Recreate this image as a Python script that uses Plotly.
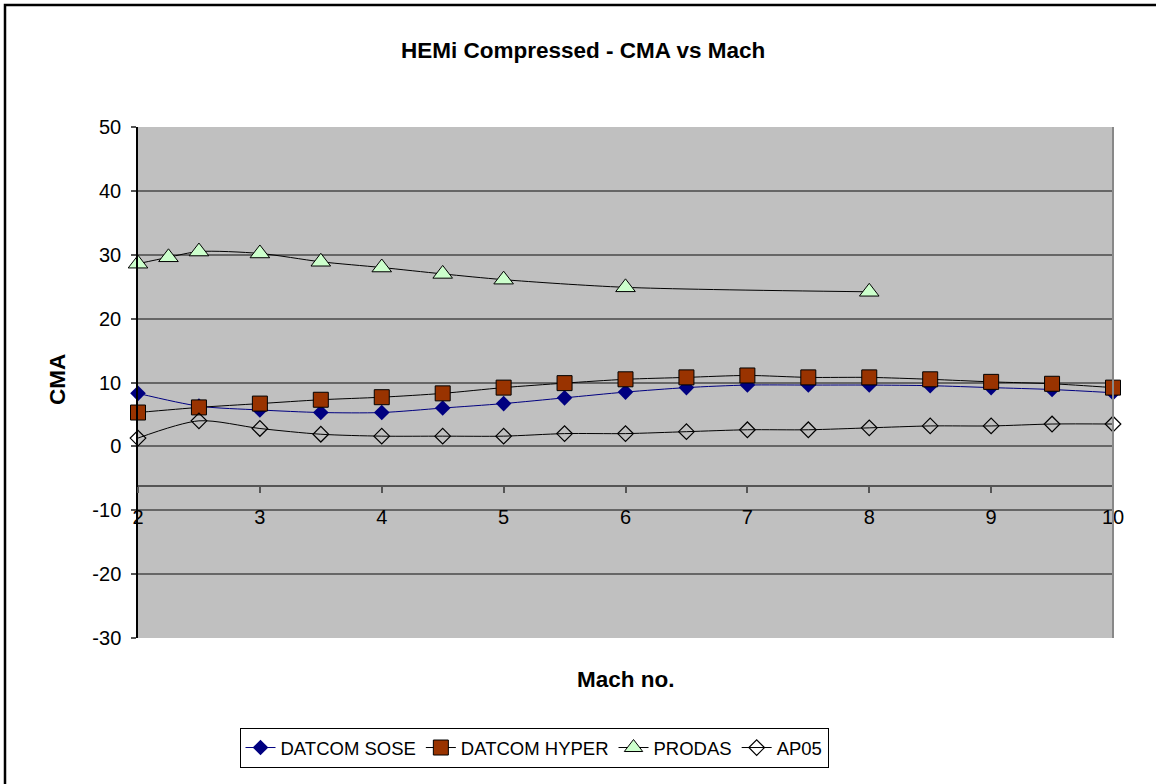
import plotly.graph_objects as go

# ---- data ----
mach = [2, 2.5, 3, 3.5, 4, 4.5, 5, 5.5, 6, 6.5, 7, 7.5, 8, 8.5, 9, 9.5, 10]
datcom_sose = [8.3, 6.3, 5.7, 5.3, 5.3, 6.0, 6.7, 7.6, 8.5, 9.2, 9.6, 9.6, 9.6, 9.5, 9.2, 8.9, 8.4]
datcom_hyper = [5.3, 6.1, 6.7, 7.3, 7.7, 8.3, 9.2, 9.9, 10.5, 10.8, 11.1, 10.8, 10.8, 10.5, 10.1, 9.8, 9.2]
mach_prodas = [2, 2.25, 2.5, 3, 3.5, 4, 4.5, 5, 6, 8]
prodas = [28.6, 29.6, 30.5, 30.2, 28.9, 28.0, 27.0, 26.1, 24.9, 24.2]
ap05 = [1.3, 4.0, 2.8, 1.9, 1.6, 1.6, 1.6, 2.0, 2.0, 2.3, 2.6, 2.6, 2.9, 3.2, 3.2, 3.5, 3.5]

x_ticks = [2, 3, 4, 5, 6, 7, 8, 9, 10]
y_ticks = [-30, -20, -10, 0, 10, 20, 30, 40, 50]
y_tick_labels = ["-30", "-20", "-10", "0", "10", "20", "30", "40", "50"]
x_axis_cross = -6.2

# ---- layout geometry (pixels) ----
W, H = 1156, 784
L, R, T, B = 138, 1156 - 1113, 127, 784 - 638
PW, PH = W - L - R, H - T - B


def px_x(p):
    return (p - L) / PW


def px_y(p):
    return (H - B - p) / PH


FONT = "Liberation Sans, Arial, sans-serif"
line_kw = dict(shape="spline", smoothing=0.8, width=1)

fig = go.Figure()
fig.add_trace(go.Scatter(
    x=mach, y=datcom_sose, name="DATCOM SOSE", mode="lines+markers",
    line=dict(color="#000080", **line_kw),
    marker=dict(symbol="diamond", size=12, color="#000080", line=dict(width=0)),
    cliponaxis=False))
fig.add_trace(go.Scatter(
    x=mach, y=datcom_hyper, name="DATCOM HYPER", mode="lines+markers",
    line=dict(color="#000000", **line_kw),
    marker=dict(symbol="square", size=15, color="#993300", line=dict(width=1, color="#000000")),
    cliponaxis=False))
fig.add_trace(go.Scatter(
    x=mach_prodas, y=prodas, name="PRODAS", mode="lines+markers",
    line=dict(color="#000000", **line_kw),
    marker=dict(symbol="triangle-up", size=17, color="#CCFFCC", line=dict(width=1, color="#000000")),
    cliponaxis=False))
fig.add_trace(go.Scatter(
    x=mach, y=ap05, name="AP05", mode="lines+markers",
    line=dict(color="#000000", **line_kw),
    marker=dict(symbol="diamond-open", size=12, color="#000000", line=dict(width=1.2)),
    cliponaxis=False))

fig.update_layout(
    width=W, height=H,
    margin=dict(l=L, r=R, t=T, b=B, pad=0),
    paper_bgcolor="white",
    plot_bgcolor="#C0C0C0",
    font=dict(family=FONT, size=20, color="black"),
    showlegend=True,
    legend=dict(
        orientation="h", x=px_x(534), xanchor="center", y=px_y(728), yanchor="top",
        bordercolor="black", borderwidth=1, bgcolor="white",
        font=dict(family=FONT, size=18.5, color="black"),
        tracegroupgap=0,
    ),
    xaxis=dict(
        range=[2, 10], tickvals=x_ticks, ticktext=[str(v) for v in x_ticks],
        anchor="free", position=(x_axis_cross - y_ticks[0]) / (y_ticks[-1] - y_ticks[0]),
        showline=True, linecolor="#555555", linewidth=1.5,
        ticks="outside", ticklen=6, tickcolor="#555555", tickwidth=1.5,
        showgrid=False, zeroline=False, ticklabelstandoff=7,
        tickfont=dict(size=20),
    ),
    yaxis=dict(
        range=[-30, 50], tickvals=y_ticks, ticktext=y_tick_labels,
        showline=True, linecolor="black", linewidth=1.5,
        ticks="outside", ticklen=5, tickcolor="#555555", tickwidth=1.5,
        showgrid=True, gridcolor="#666666", gridwidth=1.5, zeroline=False,
        ticklabelstandoff=6,
        tickfont=dict(size=20),
    ),
    annotations=[
        dict(text="<b>HEMi Compressed - CMA vs Mach</b>", xref="paper", yref="paper",
             x=px_x(583), y=px_y(50), xanchor="center", yanchor="middle",
             showarrow=False, font=dict(size=22.5)),
        dict(text="<b>Mach no.</b>", xref="paper", yref="paper",
             x=px_x(626), y=px_y(679), xanchor="center", yanchor="middle",
             showarrow=False, font=dict(size=22.5)),
        dict(text="<b>CMA</b>", xref="paper", yref="paper", textangle=-90,
             x=px_x(57), y=px_y(380), xanchor="center", yanchor="middle",
             showarrow=False, font=dict(size=22.5)),
    ],
    shapes=[
        # plot area right border
        dict(type="line", xref="paper", yref="paper", x0=1, x1=1, y0=0, y1=1,
             line=dict(color="#888888", width=2), layer="above"),
        # outer chart border
        dict(type="rect", xref="paper", yref="paper",
             x0=px_x(5), x1=px_x(1300), y0=px_y(900), y1=px_y(5),
             line=dict(color="black", width=2.5), fillcolor="rgba(0,0,0,0)"),
    ],
)

fig.write_html("out.html")
